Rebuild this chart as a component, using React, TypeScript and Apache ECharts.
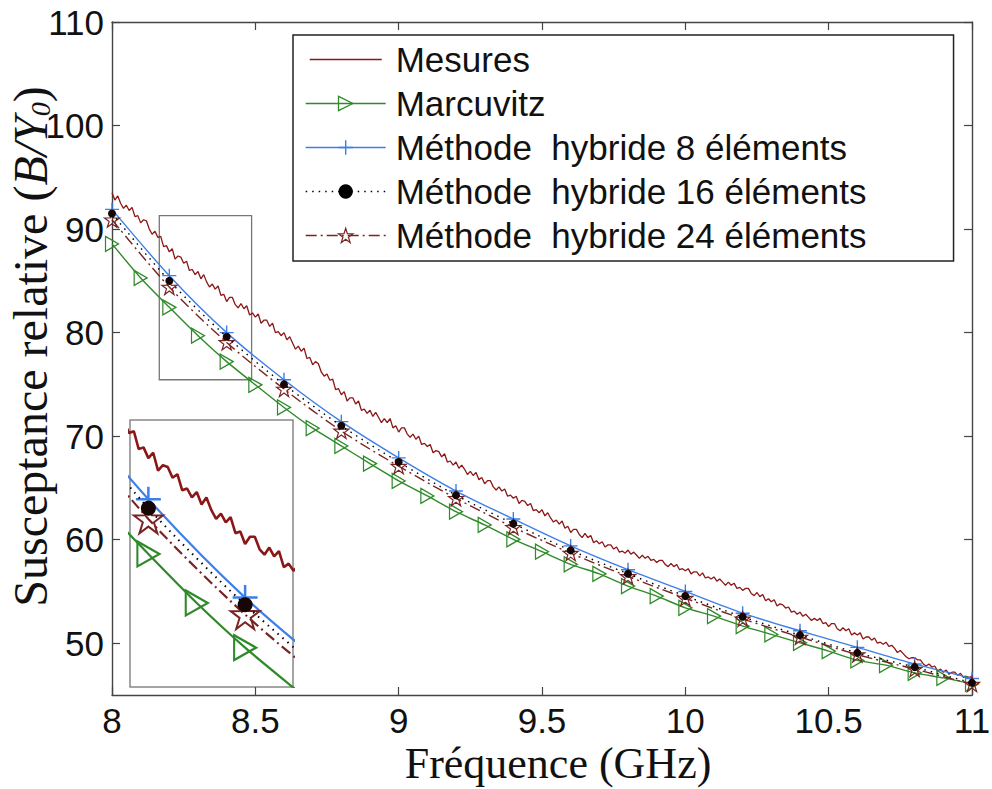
import React, { useEffect, useRef } from 'react';
import * as echarts from 'echarts';

// ---------- data ----------
const xTicks = [8, 8.5, 9, 9.5, 10, 10.5, 11];
const yTicks = [50, 60, 70, 80, 90, 100, 110];

// Measured curve, sampled every 0.01 GHz from 8.00 to 11.00
const mesuresStart = 8;
const mesuresStep = 0.01;
const mesures = [
  93.5, 92.8, 93.2, 92.5, 92.0, 92.3, 91.8, 92.1, 91.2, 91.3, 90.6,
  90.9, 90.8, 90.0, 89.5, 89.8, 89.2, 89.3, 88.3, 88.4, 87.8,
  88.1, 87.1, 87.4, 87.3, 86.7, 86.9, 86.0, 86.1, 85.6, 85.9,
  85.2, 85.6, 84.9, 84.4, 84.7, 84.2, 84.5, 83.6, 83.7, 83.0,
  83.4, 83.4, 82.7, 82.4, 82.8, 82.3, 82.6, 81.7, 81.9, 81.5,
  81.8, 80.9, 81.2, 81.2, 80.6, 80.9, 80.0, 80.1, 79.7, 80.0,
  79.3, 79.6, 79.0, 78.4, 78.7, 78.2, 78.5, 77.5, 77.6, 76.9,
  77.2, 77.0, 76.2, 75.8, 76.0, 75.4, 75.5, 74.5, 74.6, 74.0,
  74.3, 73.4, 73.7, 73.7, 73.1, 73.4, 72.5, 72.6, 72.2, 72.5,
  71.9, 72.3, 71.8, 71.3, 71.7, 71.3, 71.7, 70.8, 71.0, 70.4,
  70.8, 70.8, 70.2, 69.9, 70.2, 69.7, 70.0, 69.2, 69.3, 69.0,
  69.2, 68.4, 68.6, 68.5, 68.0, 68.3, 67.5, 67.6, 67.2, 67.5,
  66.9, 67.2, 66.8, 66.3, 66.6, 66.2, 66.5, 65.8, 66.0, 65.4,
  65.7, 65.7, 65.1, 64.8, 65.1, 64.7, 64.9, 64.2, 64.3, 64.0,
  64.2, 63.5, 63.8, 63.7, 63.3, 63.5, 62.8, 62.9, 62.6, 62.9,
  62.3, 62.6, 62.1, 61.7, 61.9, 61.5, 61.8, 61.1, 61.3, 60.7,
  61.0, 61.0, 60.5, 60.2, 60.6, 60.2, 60.4, 59.7, 59.9, 59.6,
  59.8, 59.3, 59.5, 59.5, 59.1, 59.3, 58.8, 58.9, 58.7, 59.0,
  58.6, 58.8, 58.5, 58.2, 58.5, 58.2, 58.4, 58.0, 58.1, 57.8,
  58.0, 58.0, 57.6, 57.4, 57.7, 57.4, 57.6, 57.1, 57.2, 57.0,
  57.2, 56.7, 56.9, 56.9, 56.5, 56.8, 56.3, 56.4, 56.2, 56.4,
  56.0, 56.2, 55.9, 55.6, 55.9, 55.6, 55.8, 55.3, 55.4, 55.1,
  55.3, 55.3, 54.8, 54.6, 54.9, 54.5, 54.7, 54.1, 54.3, 54.0,
  54.2, 53.6, 53.8, 53.7, 53.4, 53.5, 53.0, 53.1, 52.8, 53.0,
  52.6, 52.8, 52.5, 52.2, 52.4, 52.2, 52.4, 51.9, 52.0, 51.6,
  51.9, 51.9, 51.4, 51.2, 51.5, 51.2, 51.4, 50.8, 51.0, 50.8,
  51.0, 50.4, 50.6, 50.6, 50.3, 50.5, 50.0, 50.1, 49.9, 50.1,
  49.7, 49.8, 49.5, 49.1, 49.3, 49.0, 48.7, 48.5, 48.6, 48.6,
  48.4, 48.4, 48.0, 47.8, 48.0, 47.7, 47.8, 47.3, 47.5, 47.2,
  47.4, 47.0, 47.2, 47.2, 46.9, 47.1, 46.7, 46.8, 46.7, 46.8,
];

// Simulations (markers every 0.2 GHz)
const freqHybride = [8, 8.2, 8.4, 8.6, 8.8, 9, 9.2, 9.4, 9.6, 9.8, 10, 10.2, 10.4, 10.6, 10.8, 11];
const hybride8 = [91.9, 85.5, 80.0, 75.45, 71.4, 67.9, 64.7, 62.0, 59.4, 57.1, 55.0, 52.9, 51.2, 49.6, 48.0, 46.6];
const hybride16 = [91.5, 85.0, 79.6, 75.0, 71.0, 67.5, 64.3, 61.55, 58.97, 56.71, 54.56, 52.55, 50.78, 49.07, 47.69, 46.17];
const hybride24 = [90.9, 84.4, 79.05, 74.55, 70.5, 67.1, 64.0, 61.2, 58.7, 56.45, 54.35, 52.35, 50.6, 48.9, 47.5, 46.05];

// Marcuvitz (markers every 0.1 GHz)
const freqMarcuvitz = [8, 8.1, 8.2, 8.3, 8.4, 8.5, 8.6, 8.7, 8.8, 8.9, 9, 9.1, 9.2, 9.3, 9.4, 9.5,
  9.6, 9.7, 9.8, 9.9, 10, 10.1, 10.2, 10.3, 10.4, 10.5, 10.6, 10.7, 10.8, 10.9, 11];
const marcuvitz = [88.57, 85.28, 82.44, 79.7, 77.2, 74.96, 72.77, 70.77, 69.06, 67.35, 65.68, 64.23,
  62.7, 61.42, 60.04, 58.84, 57.62, 56.7, 55.52, 54.55, 53.42, 52.62, 51.65, 50.85, 50.04, 49.24,
  48.34, 47.88, 47.14, 46.65, 46.07];

// Zoom rectangle (main plot) and inset axis ranges
const zoomBoxX = [8.165, 8.487];
const zoomBoxY = [75.45, 91.3];
const insetX = [8.162, 8.499];
const insetY = [75.0, 89.93];

const seriesNames = [
  'Mesures',
  'Marcuvitz',
  'Méthode\u00a0 hybride 8 éléments',
  'Méthode\u00a0 hybride 16 éléments',
  'Méthode\u00a0 hybride 24 éléments',
];

// ---------- styling ----------
const FONT_SANS = "'Liberation Sans', Arial, Helvetica, sans-serif";
const FONT_SERIF = "'Liberation Serif', 'Times New Roman', serif";
const C_MES = '#8b1717';
const C_MAR = '#2f8a2a';
const C_H8 = '#3d7fe8';
const C_H16 = '#000000';
const C_H24 = '#7a2323';
const AXIS_C = '#444';

const PLUS = 'path://M0,9H20V11H0Z M9,0H11V20H9Z';
const STAR = 'path://M50,2L61.2,36.2L97.6,36.5L68.2,57.8L79.4,92.4L50,71.2L20.6,92.4L31.8,57.8L2.4,36.5L38.8,36.2Z';
const MES_ICON = 'path://M0,0L0.1,0L0,0.1Z M0,9.2H80V10.8H0Z M79.9,20L80,20L80,19.9Z';
const DOTTED = [1.5, 5];
const DASHDOT = [11, 4, 2, 4];

const mesuresData = mesures.map((v, i) => [+(mesuresStart + i * mesuresStep).toFixed(2), v]);
const pair = (xs: number[], ys: number[]) => xs.map((x, i) => [x, ys[i]]);

function buildSeries(grid: number) {
  const inset = grid === 1;
  const ax = { xAxisIndex: grid, yAxisIndex: grid };
  const lw = inset ? 2.2 : 1.4;
  return [
    {
      name: seriesNames[0], type: 'line', ...ax, data: mesuresData,
      symbol: 'none', showSymbol: false,
      lineStyle: { color: C_MES, width: inset ? 2.6 : 1.3 },
      itemStyle: { color: C_MES }, z: 2,
    },
    {
      name: seriesNames[1], type: 'line', ...ax, data: pair(freqMarcuvitz, marcuvitz),
      symbol: 'triangle', symbolRotate: -90, symbolSize: inset ? [25, 22] : [15, 13],
      smooth: 0.2,
      lineStyle: { color: C_MAR, width: lw },
      itemStyle: { color: 'rgba(0,0,0,0)', borderColor: C_MAR, borderWidth: inset ? 2.2 : 1.3 },
      z: 3,
      ...(inset ? {} : {
        markArea: {
          silent: true,
          itemStyle: { color: 'rgba(0,0,0,0)', borderColor: '#777', borderWidth: 1.3 },
          data: [[{ coord: [zoomBoxX[0], zoomBoxY[1]] }, { coord: [zoomBoxX[1], zoomBoxY[0]] }]],
        },
      }),
    },
    {
      name: seriesNames[2], type: 'line', ...ax, data: pair(freqHybride, hybride8),
      symbol: PLUS, symbolSize: inset ? 25 : 14, smooth: 0.3,
      lineStyle: { color: C_H8, width: lw },
      itemStyle: { color: C_H8 }, z: 3,
    },
    {
      name: seriesNames[4], type: 'line', ...ax, data: pair(freqHybride, hybride24),
      symbol: STAR, symbolSize: inset ? 29 : 15, smooth: 0.3,
      lineStyle: { color: C_H24, width: lw, type: DASHDOT },
      itemStyle: { color: 'rgba(0,0,0,0)', borderColor: C_H24, borderWidth: inset ? 2 : 1.2 }, z: 4,
    },
    {
      name: seriesNames[3], type: 'line', ...ax, data: pair(freqHybride, hybride16),
      symbol: 'circle', symbolSize: inset ? 15 : 8, smooth: 0.3,
      lineStyle: { color: C_H16, width: inset ? 2 : 1.4, type: DOTTED },
      itemStyle: { color: '#160606' }, z: 5,
    },
  ];
}

const tickStyle = { inside: true, length: 8, lineStyle: { color: AXIS_C, width: 1.2 } };
const lineStyle = { show: true, lineStyle: { color: AXIS_C, width: 1.4 } };

const option: any = {
  animation: false,
  backgroundColor: '#fff',
  grid: [
    { left: 112, right: 20, top: 22, bottom: 94, containLabel: false, outerBoundsMode: 'none' },
    {
      left: 130, top: 420, width: 163, height: 267, show: true, outerBoundsMode: 'none',
      backgroundColor: '#fff', borderColor: '#888', borderWidth: 1.5,
    },
  ],
  xAxis: [
    {
      type: 'value', gridIndex: 0, position: 'bottom', min: 8, max: 11, interval: 0.5,
      axisLine: lineStyle, splitLine: { show: false },
      axisTick: { ...tickStyle, customValues: xTicks },
      axisLabel: {
        customValues: xTicks, margin: 8, color: '#111', fontFamily: FONT_SANS, fontSize: 35, lineHeight: 34,
        formatter: (v: number) => String(v),
      },
      name: 'Fréquence (GHz)', nameLocation: 'middle', nameGap: 48, nameMoveOverlap: false,
      nameTextStyle: { fontFamily: FONT_SERIF, fontSize: 44, lineHeight: 40, color: '#111', padding: [0, 0, 0, 32] },
    },
    {
      type: 'value', gridIndex: 1, min: insetX[0], max: insetX[1], show: false,
    },
    {
      type: 'value', gridIndex: 0, position: 'top', min: 8, max: 11, interval: 0.5,
      axisLine: lineStyle, splitLine: { show: false },
      axisTick: { ...tickStyle, customValues: xTicks }, axisLabel: { show: false },
    },
  ],
  yAxis: [
    {
      type: 'value', gridIndex: 0, position: 'left', min: 45, max: 110,
      axisLine: lineStyle, splitLine: { show: false },
      axisTick: { ...tickStyle, customValues: yTicks },
      axisLabel: { customValues: yTicks, margin: 8, color: '#111', fontFamily: FONT_SANS, fontSize: 35 },
      name: '{a|Susceptance relative (}{b|B/Y}{c|0}{a|)}',
      nameLocation: 'middle', nameGap: 58, nameMoveOverlap: false,
      nameTextStyle: {
        padding: [0, 0, 0, 24],
        rich: {
          a: { fontFamily: FONT_SERIF, fontSize: 48, color: '#111', lineHeight: 48 },
          b: { fontFamily: FONT_SERIF, fontSize: 48, color: '#111', lineHeight: 48, fontStyle: 'italic' },
          c: { fontFamily: FONT_SERIF, fontSize: 28, color: '#111', lineHeight: 28, fontStyle: 'italic', verticalAlign: 'bottom' },
        },
      },
    },
    {
      type: 'value', gridIndex: 1, min: insetY[0], max: insetY[1], show: false,
    },
    {
      type: 'value', gridIndex: 0, position: 'right', min: 45, max: 110,
      axisLine: lineStyle, splitLine: { show: false },
      axisTick: { ...tickStyle, customValues: yTicks }, axisLabel: { show: false },
    },
  ],
  legend: {
    orient: 'vertical', left: 293, top: 35,
    padding: [7, 87, 8, 12], itemGap: 9, itemWidth: 80, itemHeight: 18,
    borderColor: '#222', borderWidth: 1.5, backgroundColor: '#fff',
    selectedMode: false,
    textStyle: { fontFamily: FONT_SANS, fontSize: 35, lineHeight: 35, color: '#111', padding: [0, 0, 0, 5] },
    data: [
      { name: seriesNames[0], icon: MES_ICON, itemStyle: { color: C_MES } },
      {
        name: seriesNames[1],
        itemStyle: { color: 'rgba(0,0,0,0)', borderColor: C_MAR, borderWidth: 1.3 },
        lineStyle: { color: C_MAR, width: 1.4, type: 'solid' },
      },
      {
        name: seriesNames[2],
        itemStyle: { color: C_H8, borderWidth: 0 },
        lineStyle: { color: C_H8, width: 1.4, type: 'solid' },
      },
      {
        name: seriesNames[3],
        itemStyle: { color: '#000', borderWidth: 0 },
        lineStyle: { color: '#000', width: 1.4, type: DOTTED },
      },
      {
        name: seriesNames[4],
        itemStyle: { color: 'rgba(0,0,0,0)', borderColor: C_H24, borderWidth: 1.2 },
        lineStyle: { color: C_H24, width: 1.4, type: DASHDOT },
      },
    ],
  },
  series: [...buildSeries(0), ...buildSeries(1)],
};

export default function App() {
  const ref = useRef<HTMLDivElement>(null);
  useEffect(() => {
    if (!ref.current) return;
    const chart = echarts.init(ref.current, null, { renderer: 'svg' });
    chart.setOption(option);
    return () => chart.dispose();
  }, []);
  return (
    <div
      ref={ref}
      style={{ position: 'fixed', left: 0, top: 0, width: 992, height: 789, background: '#fff' }}
    />
  );
}
